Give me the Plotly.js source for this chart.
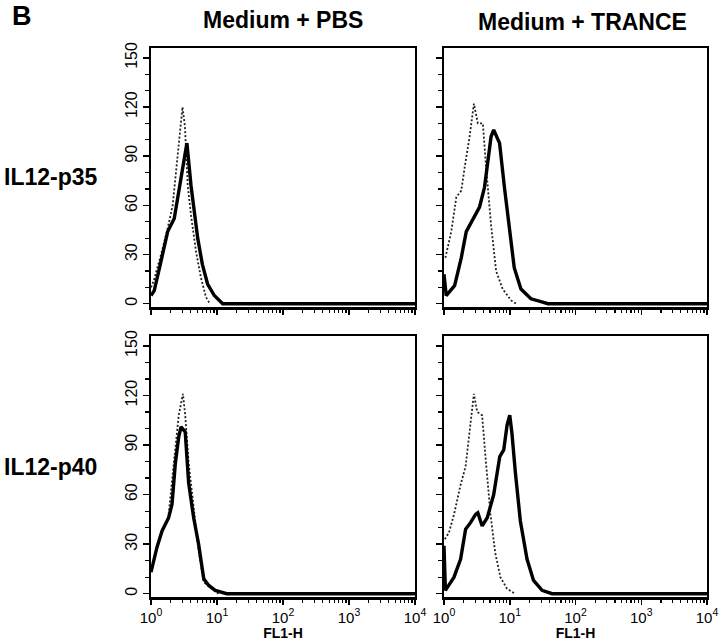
<!DOCTYPE html>
<html>
<head>
<meta charset="utf-8">
<script src="https://cdn.plot.ly/plotly-3.0.1.min.js"></script>
<style>html,body{margin:0;padding:0;background:#fff}#plot{width:720px;height:644px}</style>
</head>
<body>
<div id="plot"></div>
<script>
// IL12-p35, Medium + PBS
var p35PbsX    = [1, 1.12, 1.42, 1.79, 2.25, 2.7, 3.2, 3.5, 4.04, 4.5, 5.1, 6.0, 7.2, 9.1, 12.2, 10000];
var p35PbsY    = [5, 8, 26, 44, 52, 72, 90, 98, 72, 56, 40, 24, 12, 5, 0, 0];
var p35PbsIsoX = [1, 1.1, 1.42, 1.79, 2.13, 2.4, 2.7, 3.0, 3.27, 3.6, 4.04, 4.8, 5.7, 6.8, 7.8];
var p35PbsIsoY = [10, 14, 30, 46, 60, 82, 104, 120, 108, 72, 54, 32, 16, 4, 0];

// IL12-p35, Medium + TRANCE
var p35TrX    = [1, 1.08, 1.45, 1.83, 2.18, 2.75, 3.47, 4.13, 4.6, 5.2, 5.7, 7.0, 8.3, 9.9, 11.7, 14.8, 21, 31.6, 38, 10000];
var p35TrY    = [18, 5, 11, 28, 44, 52, 59, 71, 87, 102, 106, 98, 71, 44, 22, 9, 3, 1, 0, 0];
var p35TrIsoX = [1.05, 1.29, 1.54, 1.83, 2.06, 2.45, 2.85, 3.27, 3.9, 4.37, 5.2, 6.2, 7.8, 10.5, 12.5];
var p35TrIsoY = [28, 44, 65, 69, 83, 102, 122, 110, 110, 83, 48, 20, 9, 2, 0];

// IL12-p40, Medium + PBS
var p40PbsX    = [1, 1.23, 1.47, 1.85, 2.08, 2.34, 2.63, 2.85, 3.3, 3.72, 4.43, 5.26, 6.3, 7.5, 9.4, 14, 10000];
var p40PbsY    = [13, 28, 38, 46, 54, 79, 95, 101, 98, 67, 46, 30, 9, 5, 2, 0, 0];
var p40PbsIsoX = [1.85, 2.34, 2.63, 3.05, 3.3, 3.72, 4.43, 5.26, 6.3, 7.9, 10.5];
var p40PbsIsoY = [48, 87, 108, 121, 108, 79, 54, 26, 7, 4, 0];

// IL12-p40, Medium + TRANCE
var p40TrX    = [1, 1.05, 1.42, 1.79, 2.13, 2.53, 3.02, 3.27, 3.8, 4.55, 5.7, 7.05, 8.1, 9.1, 10, 10.8, 12.2, 14.5, 18.3, 23, 31, 44, 10000];
var p40TrY    = [29, 2, 10, 21, 39, 43, 48, 49, 41, 46, 60, 83, 87, 102, 108, 97, 73, 44, 21, 8, 2, 0, 0];
var p40TrIsoX = [1.03, 1.19, 1.42, 1.79, 2.13, 2.39, 2.85, 3.2, 3.8, 4.27, 5.1, 6.0, 7.2, 9.1, 12];
var p40TrIsoY = [33, 37, 48, 66, 77, 93, 121, 110, 108, 83, 48, 25, 10, 3, 0];

var colTitles = ['Medium + PBS', 'Medium + TRANCE'];
var rowTitles = ['IL12-p35', 'IL12-p40'];
var decades = [1, 10, 100, 1000, 10000];
var decadeText = ['10<sup>0</sup>', '10<sup>1</sup>', '10<sup>2</sup>', '10<sup>3</sup>', '10<sup>4</sup>'];
var countTicks = [0, 30, 60, 90, 120, 150];

var minorLog = [];
for (var d = 1; d < 10000; d *= 10) {
  for (var k = 2; k < 10; k++) minorLog.push(k * d);
}

function solid(x, y, n) {
  return {x: x, y: y, xaxis: 'x' + n, yaxis: 'y' + n, mode: 'lines',
          line: {color: '#000', width: 3.4}, showlegend: false, hoverinfo: 'skip'};
}
function dotted(x, y, n) {
  return {x: x, y: y, xaxis: 'x' + n, yaxis: 'y' + n, mode: 'lines',
          line: {color: '#222', width: 1.8, dash: '2px,2px'}, showlegend: false, hoverinfo: 'skip'};
}

var data = [
  dotted(p35PbsIsoX, p35PbsIsoY, ''), solid(p35PbsX, p35PbsY, ''),
  dotted(p35TrIsoX, p35TrIsoY, '2'), solid(p35TrX, p35TrY, '2'),
  dotted(p40PbsIsoX, p40PbsIsoY, '3'), solid(p40PbsX, p40PbsY, '3'),
  dotted(p40TrIsoX, p40TrIsoY, '4'), solid(p40TrX, p40TrY, '4')
];

var font = 'Liberation Sans, Arial, sans-serif';
var colDom = [[151 / 720, 415 / 720], [444 / 720, 707 / 720]];
var rowDom = [[1 - 307 / 644, 1 - 48 / 644], [1 - 597 / 644, 1 - 336 / 644]];

function xAx(col, row, n) {
  var ax = {
    type: 'log', range: [0, 4], domain: colDom[col], anchor: 'y' + n,
    showline: true, linewidth: 2.5, linecolor: '#000', mirror: true,
    showgrid: false, zeroline: false,
    ticks: 'outside', ticklen: 5, tickwidth: 1.5, tickcolor: '#000',
    tickvals: decades, ticktext: decadeText, showticklabels: row === 1,
    ticklabeloverflow: 'allow',
    tickfont: {family: font, size: 15, color: '#000'},
    minor: {tickvals: minorLog, ticks: 'outside', ticklen: 3, tickwidth: 1.2, tickcolor: '#000', showgrid: false}
  };
  if (row === 1) ax.title = {text: '<b>FL1-H</b>', font: {family: font, size: 14, color: '#000'}, standoff: 0};
  return ax;
}
function yAx(col, row, n) {
  return {
    range: [-2, 156], domain: rowDom[row], anchor: 'x' + n,
    showline: true, linewidth: 2, linecolor: '#000', mirror: true,
    showgrid: false, zeroline: false,
    ticks: 'outside', ticklen: 6, tickwidth: 1.5, tickcolor: '#000',
    tickvals: countTicks, showticklabels: col === 0, tickangle: -90,
    tickfont: {family: font, size: 16, color: '#000'},
    minor: {dtick: 10, ticks: 'outside', ticklen: 4, tickwidth: 1.2, tickcolor: '#000', showgrid: false}
  };
}

var annotations = [
  {text: '<b>B</b>', x: 10 / 720, y: 1 - 16 / 644, xanchor: 'left', yanchor: 'middle', font: {size: 27}},
  {text: '<b>' + colTitles[0] + '</b>', x: 283 / 720, y: 1 - 20 / 644, xanchor: 'center', yanchor: 'middle', font: {size: 23}},
  {text: '<b>' + colTitles[1] + '</b>', x: 582 / 720, y: 1 - 22 / 644, xanchor: 'center', yanchor: 'middle', font: {size: 23}},
  {text: '<b>' + rowTitles[0] + '</b>', x: 2 / 720, y: 1 - 177 / 644, xanchor: 'left', yanchor: 'middle', font: {size: 23}},
  {text: '<b>' + rowTitles[1] + '</b>', x: 2 / 720, y: 1 - 467 / 644, xanchor: 'left', yanchor: 'middle', font: {size: 23}}
];
annotations.forEach(function(a) {
  a.xref = 'paper'; a.yref = 'paper'; a.showarrow = false;
  a.font.family = font; a.font.color = '#000';
});

var layout = {
  width: 720, height: 644,
  margin: {l: 0, r: 0, t: 0, b: 0},
  paper_bgcolor: '#fff', plot_bgcolor: '#fff',
  showlegend: false,
  xaxis: xAx(0, 0, ''), yaxis: yAx(0, 0, ''),
  xaxis2: xAx(1, 0, '2'), yaxis2: yAx(1, 0, '2'),
  xaxis3: xAx(0, 1, '3'), yaxis3: yAx(0, 1, '3'),
  xaxis4: xAx(1, 1, '4'), yaxis4: yAx(1, 1, '4'),
  annotations: annotations
};
layout.xaxis.anchor = 'y'; layout.yaxis.anchor = 'x';

Plotly.newPlot('plot', data, layout, {displayModeBar: false, staticPlot: true});
</script>
</body>
</html>
